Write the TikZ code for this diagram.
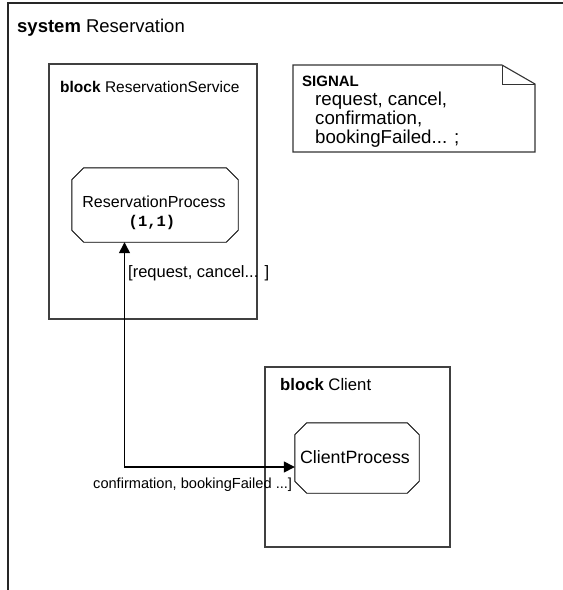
\documentclass[tikz,border=0pt]{standalone}
\usepackage{fontspec}
\setmainfont{Liberation Sans}
\setmonofont{Liberation Mono}
\usetikzlibrary{calc,arrows.meta}
\newcommand{\fs}[1]{\fontsize{#1}{#1}\selectfont}
\tikzset{
  lbl/.style={inner sep=0pt, anchor=base west},
  frame/.style={draw=black!85, line width=1.6pt},
  blockbox/.style={draw=black!75, line width=1.3pt},
  procbox/.style={draw=none, inner sep=0pt},
  octo/.style={draw=black, line width=0.9pt, line join=miter},
  conn/.style={line width=1.4pt, {Triangle[length=11pt,width=11pt]}-{Triangle[length=11pt,width=11pt]}},
  notebox/.style={draw=black!80, line width=1.1pt, line join=miter}
}
\newcommand{\octagon}[2]{%
  \draw[octo] ($(#1.north west)+(#2,0)$) -- ($(#1.north east)+(-#2,0)$) -- ($(#1.north east)+(0,-#2)$)
    -- ($(#1.south east)+(0,#2)$) -- ($(#1.south east)+(-#2,0)$) -- ($(#1.south west)+(#2,0)$)
    -- ($(#1.south west)+(0,#2)$) -- ($(#1.north west)+(0,-#2)$) -- cycle;}
\begin{document}
\begin{tikzpicture}[x=1pt,y=1pt]
\useasboundingbox (0,0) rectangle (563,-590);
% outer system frame
\coordinate (sysbl) at (8,-590);
\coordinate (systl) at (8,-3);
\coordinate (systr) at (563,-3);
\draw[frame] (sysbl) -- (systl) -- (systr);
\node[lbl] (systitle) at (17,-32) {\fs{18.5}\textbf{system} Reservation};

% block ReservationService
\node[blockbox, minimum width=208pt, minimum height=255pt, inner sep=0pt] (rs) at (153,-191.5) {};
\node[lbl] (rstitle) at (60,-92) {\fs{15.5}\textbf{block} ReservationService};

% block Client
\node[blockbox, minimum width=185pt, minimum height=180pt, inner sep=0pt] (cl) at (357.5,-457) {};
\node[lbl] (cltitle) at (280,-390) {\fs{16.7}\textbf{block} Client};

% processes
\node[procbox, minimum width=166pt, minimum height=74pt] (rp) at (155,-205) {};
\octagon{rp}{12}
\node[inner sep=0pt] (rpname) at (154,-202) {\fs{16}ReservationProcess};
\node[inner sep=0pt] (rpinst) at (152,-222) {\fs{15.5}\ttfamily\bfseries (1,1)};

\node[procbox, minimum width=124pt, minimum height=70pt] (cp) at (357,-458) {};
\octagon{cp}{12}
\node[inner sep=0pt] (cpname) at (355,-457) {\fs{17.8}ClientProcess};

% signal note
\coordinate (ntl) at (293,-65);
\coordinate (nf1) at (502,-65);
\coordinate (nf2) at (535,-84);
\coordinate (nf3) at (502,-84);
\coordinate (nbr) at (535,-152);
\coordinate (nbl) at (293,-152);
\draw[notebox] (ntl) -- (nf1) -- (nf2) -- (nbr) -- (nbl) -- cycle;
\draw[notebox, line width=0.8pt] (nf1) -- (nf3) -- (nf2);
\node[lbl] (sigkw) at (302,-86) {\fs{15}\textbf{SIGNAL}};
\node[lbl] (sig1) at (315,-105) {\fs{18.7}request, cancel,};
\node[lbl] (sig2) at (315,-124) {\fs{18.7}confirmation,};
\node[lbl] (sig3) at (315,-143) {\fs{18.7}bookingFailed... ;};

% connector
\coordinate (bend) at (124.5,-467);
\draw[conn] (rp.south -| bend) -- (bend) -- (cp.west |- bend);
\node[lbl] (lab1) at (128,-277) {\fs{16.5}[request, cancel... ]};
\node[lbl] (lab2) at (93,-488) {\fs{14.6}confirmation, bookingFailed ...]};
\end{tikzpicture}
\end{document}
